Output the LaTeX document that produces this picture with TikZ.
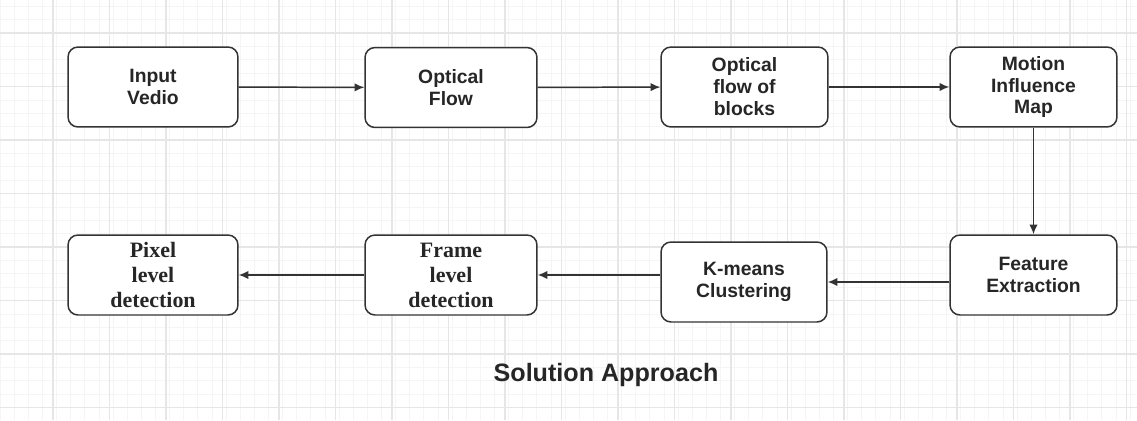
\documentclass[tikz,border=0pt]{standalone}
\usepackage{fontspec}
\setmainfont{Liberation Sans}
\newfontfamily\timesfont{Liberation Serif}
\usetikzlibrary{arrows.meta}

\definecolor{boxline}{HTML}{333333}
\definecolor{gridmajor}{HTML}{E6E6E6}
\definecolor{gridminor}{HTML}{F5F5F5}

\tikzstyle{block} = [draw=boxline, line width=0.85pt, fill=white, rounded corners=0.2cm,
    minimum width=3.4cm, minimum height=1.6cm, align=center, inner sep=0pt,
    font=\fontsize{11}{12.5}\selectfont\bfseries, text=black!85]
\tikzstyle{serifblock} = [block, font=\fontsize{12.5}{14.2}\timesfont\bfseries]
\tikzstyle{arr} = [draw=boxline, line width=0.85pt, -{Latex[length=5.5pt,width=4.8pt]}]

\begin{document}
\begin{tikzpicture}[x=0.02cm, y=-0.02cm]
\useasboundingbox (0,0) rectangle (1137,420);
\fill[white] (0,0) rectangle (1137,420);
\foreach \gx in {0,14.125,...,1137} \draw[gridminor, line width=0.4pt] (\gx,0) -- (\gx,420);
\foreach \gy in {6.25,19.625,...,420} \draw[gridminor, line width=0.4pt] (0,\gy) -- (1137,\gy);
\foreach \gx in {53,109.5,...,1137} \draw[gridmajor, line width=0.6pt] (\gx,0) -- (\gx,420);
\foreach \gy in {33,86.5,...,420} \draw[gridmajor, line width=0.6pt] (0,\gy) -- (1137,\gy);

\node[block] (input) at (153,87) {Input\\Vedio};
\node[block, minimum width=3.44cm] (optflow) at (451,87.5) {Optical\\Flow};
\node[block, minimum width=3.34cm] (blocks) at (744.5,87) {Optical\\flow of\\blocks};
\node[block, minimum width=3.34cm] (motion) at (1033.5,87) {Motion\\Influence\\Map};
\node[block, minimum width=3.34cm] (feature) at (1033.5,275) {Feature\\Extraction};
\node[block, minimum width=3.32cm] (kmeans) at (744,282) {K-means\\Clustering};
\node[serifblock, minimum width=3.44cm] (frame) at (451,275) {Frame\\level\\detection};
\node[serifblock] (pixel) at (153,275) {Pixel\\level\\detection};

\node[font=\fontsize{14.3}{16}\selectfont\bfseries, text=black!85] (title) at (606,375) {Solution Approach};

\draw[arr] (input) -- (optflow);
\draw[arr] (optflow) -- (blocks);
\draw[arr] (blocks) -- (motion);
\draw[arr] (motion) -- (feature);
\draw[arr] (feature.west |- kmeans) -- (kmeans.east);
\draw[arr] (kmeans.west |- frame) -- (frame.east);
\draw[arr] (frame) -- (pixel);
\end{tikzpicture}
\end{document}
